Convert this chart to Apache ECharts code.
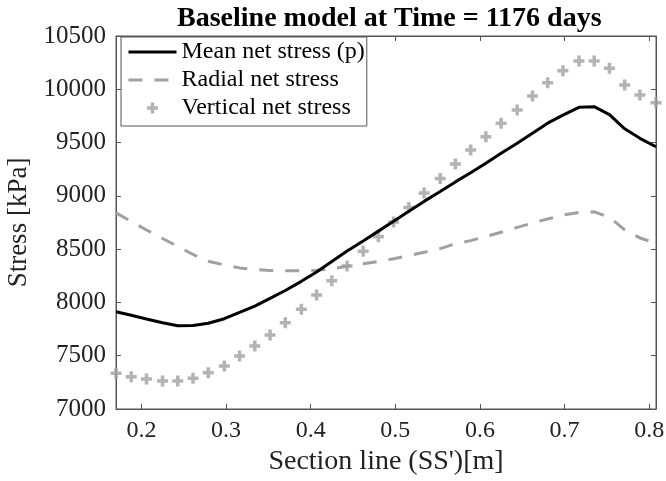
<!DOCTYPE html>
<html>
<head>
<meta charset="utf-8">
<script src="https://cdn.jsdelivr.net/npm/echarts@6/dist/echarts.min.js"></script>
<style>html,body{margin:0;padding:0;background:#fff}#c{width:666px;height:481px}</style>
</head>
<body>
<div id="c"></div>
<script>
var titleText = 'Baseline model at Time = 1176 days';
var xName = "Section line (SS')[m]";
var yName = 'Stress [kPa]';
var seriesNames = ['Mean net stress (p)', 'Radial net stress', 'Vertical net stress'];
var xTicks = [0.2, 0.3, 0.4, 0.5, 0.6, 0.7, 0.8];
var yTicks = [7000, 7500, 8000, 8500, 9000, 9500, 10000, 10500];
var xMin = 0.17, xMax = 0.808, yMin = 7000, yMax = 10500;

var xValues = [0.170, 0.188, 0.206, 0.225, 0.243, 0.261, 0.279, 0.298, 0.316, 0.334, 0.352, 0.370,
  0.389, 0.407, 0.425, 0.443, 0.462, 0.480, 0.498, 0.516, 0.534, 0.553, 0.571, 0.589,
  0.607, 0.625, 0.644, 0.662, 0.680, 0.698, 0.717, 0.735, 0.753, 0.771, 0.789, 0.808];
var meanStress = [7912, 7880, 7845, 7810, 7782, 7783, 7804, 7847, 7906, 7965, 8038, 8112,
  8198, 8285, 8384, 8483, 8576, 8669, 8762, 8855, 8948, 9041, 9131, 9217,
  9306, 9400, 9493, 9588, 9682, 9758, 9831, 9837, 9763, 9629, 9540, 9461];
var radialStress = [8840, 8760, 8680, 8600, 8525, 8450, 8386, 8351, 8324, 8309, 8300, 8298,
  8298, 8302, 8315, 8340, 8362, 8385, 8410, 8440, 8470, 8505, 8550, 8580,
  8619, 8659, 8704, 8745, 8783, 8820, 8844, 8850, 8800, 8680, 8605, 8555];
var verticalStress = [7335, 7303, 7281, 7263, 7263, 7288, 7341, 7403, 7497, 7591, 7694, 7810,
  7935, 8070, 8204, 8342, 8480, 8617, 8754, 8890, 9027, 9163, 9299, 9430,
  9555, 9681, 9806, 9937, 10062, 10175, 10265, 10265, 10197, 10040, 9946, 9874];

function pairs(ys) { return xValues.map(function (x, i) { return [x, ys[i]]; }); }

var FONT = 'Liberation Serif, Times New Roman, serif';
var AXC = '#555';
var GREY = '#a0a0a0';
var PLUS = 'path://M3.4,0H6.6V3.4H10V6.6H6.6V10H3.4V6.6H0V3.4H3.4Z';
var HIDDEN_SYMBOL = {color: 'rgba(0,0,0,0)', borderColor: 'rgba(0,0,0,0)', borderWidth: 0, opacity: 0};

var chart = echarts.init(document.getElementById('c'), null, {renderer: 'canvas'});
chart.setOption({
  animation: false,
  backgroundColor: '#fff',
  title: {
    text: titleText, left: 172, top: 0,
    textStyle: {fontFamily: FONT, fontSize: 28, fontWeight: 'bold', color: '#000'}
  },
  legend: {
    orient: 'vertical', left: 121, top: 37,
    padding: [1, 2, 4, 6], itemGap: 0, itemWidth: 48, itemHeight: 11,
    backgroundColor: '#fff', borderColor: AXC, borderWidth: 1,
    textStyle: {fontFamily: FONT, fontSize: 24, color: '#000', lineHeight: 28},
    data: [
      {name: seriesNames[0], itemStyle: HIDDEN_SYMBOL, lineStyle: {width: 3, color: '#000'}},
      {name: seriesNames[1], itemStyle: HIDDEN_SYMBOL, lineStyle: {width: 3, color: GREY, type: [14, 12]}},
      {name: seriesNames[2], icon: PLUS}
    ]
  },
  grid: {left: 116, right: 10, top: 36, bottom: 72, show: true, borderColor: AXC, borderWidth: 1,
    outerBoundsMode: 'none', containLabel: false},
  xAxis: [{
    type: 'value', min: xMin, max: xMax,
    name: xName, nameLocation: 'middle', nameGap: 39,
    nameTextStyle: {fontFamily: FONT, fontSize: 28, color: '#222'},
    axisLine: {show: true, lineStyle: {color: AXC, width: 1}},
    axisTick: {show: true, inside: true, length: 5, customValues: xTicks, lineStyle: {color: AXC}},
    axisLabel: {customValues: xTicks, fontFamily: FONT, fontSize: 24, color: '#222', margin: 10,
      formatter: function (v) { return String(Math.round(v * 10) / 10); }},
    splitLine: {show: false}
  }, {
    type: 'value', min: xMin, max: xMax, position: 'top',
    axisLine: {show: true, lineStyle: {color: AXC, width: 1}},
    axisTick: {show: true, inside: true, length: 5, customValues: xTicks, lineStyle: {color: AXC}},
    axisLabel: {show: false}, splitLine: {show: false}
  }],
  yAxis: [{
    type: 'value', min: yMin, max: yMax, interval: 500,
    name: yName, nameLocation: 'middle', nameGap: 64, nameRotate: 90,
    nameTextStyle: {fontFamily: FONT, fontSize: 27, color: '#222'},
    axisLine: {show: true, lineStyle: {color: AXC, width: 1}},
    axisTick: {show: true, inside: true, length: 5, lineStyle: {color: AXC}},
    axisLabel: {fontFamily: FONT, fontSize: 25, color: '#222', margin: 10,
      formatter: function (v) { return String(v); }},
    splitLine: {show: false}
  }, {
    type: 'value', min: yMin, max: yMax, interval: 500, position: 'right',
    axisLine: {show: true, lineStyle: {color: AXC, width: 1}},
    axisTick: {show: true, inside: true, length: 5, lineStyle: {color: AXC}},
    axisLabel: {show: false}, splitLine: {show: false}
  }],
  series: [{
    name: seriesNames[0], type: 'line', data: pairs(meanStress),
    symbol: 'none', smooth: false,
    lineStyle: {color: '#000', width: 3}, itemStyle: {color: '#000'}, z: 3
  }, {
    name: seriesNames[1], type: 'line', data: pairs(radialStress),
    symbol: 'none',
    lineStyle: {color: GREY, width: 3, type: [14, 12]}, itemStyle: {color: GREY}, z: 2
  }, {
    name: seriesNames[2], type: 'scatter', data: pairs(verticalStress),
    symbol: PLUS, symbolSize: 11, clip: false,
    itemStyle: {color: GREY}, z: 2
  }]
});
</script>
</body>
</html>
